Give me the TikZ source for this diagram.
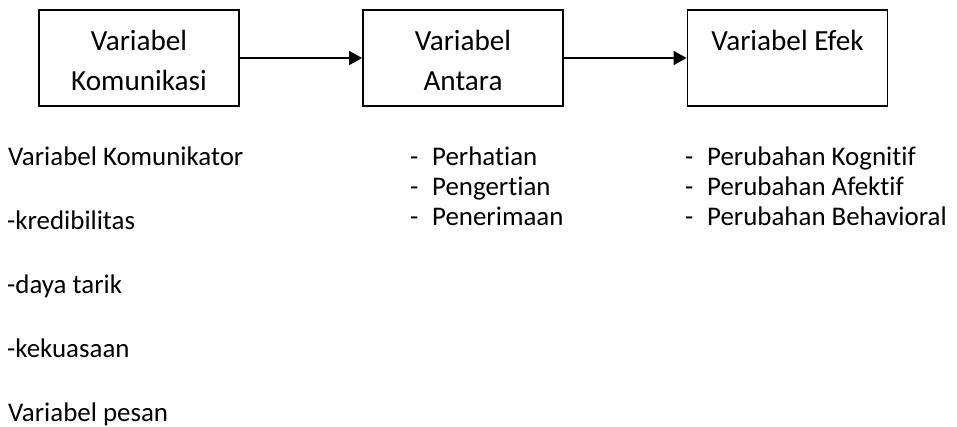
\documentclass[tikz,border=0pt]{standalone}
\usepackage{fontspec}
\setmainfont{Carlito}[Ligatures=NoCommon]
\usetikzlibrary{arrows.meta}

\tikzset{
  varbox/.style={draw=black, line width=1.8pt, minimum width=200pt, minimum height=96pt, inner sep=0pt},
  boxtext/.style={anchor=base, inner sep=0pt, font=\fontsize{29.2}{34}\selectfont},
  listtext/.style={anchor=base west, inner sep=0pt, font=\fontsize{26.9}{30}\selectfont},
  flow/.style={line width=1.8pt, -{Triangle[length=13pt,width=14pt]}}
}

\begin{document}
\begin{tikzpicture}[x=1pt, y=-1pt]
  \useasboundingbox (0,0) rectangle (957,426);

  % the three variable boxes
  \node[varbox] (kom) at (139,58) {};
  \node[varbox] (ant) at (463,58) {};
  \node[varbox] (efk) at (787.5,58) {};

  \node[boxtext] (kom1) at (139,50) {Variabel};
  \node[boxtext] (kom2) at (139,90) {Komunikasi};
  \node[boxtext] (ant1) at (463,50) {Variabel};
  \node[boxtext] (ant2) at (463,90) {Antara};
  \node[boxtext] (efk1) at (787.5,50) {Variabel Efek};

  % flow between the boxes
  \draw[flow] (kom.east) -- (ant.west);
  \draw[flow] (ant.east) -- (efk.west);

  % communication variables
  \node[listtext] (l1) at (8,165) {Variabel Komunikator};
  \node[listtext] (l2) at (7,229) {-kredibilitas};
  \node[listtext] (l3) at (7,293) {-daya tarik};
  \node[listtext] (l4) at (7,357) {-kekuasaan};
  \node[listtext] (l5) at (8,421) {Variabel pesan};

  % intermediate variables
  \node[listtext] (m1d) at (410,165) {-};
  \node[listtext] (m1) at (432,165) {Perhatian};
  \node[listtext] (m2d) at (410,195) {-};
  \node[listtext] (m2) at (432,195) {Pengertian};
  \node[listtext] (m3d) at (410,225) {-};
  \node[listtext] (m3) at (432,225) {Penerimaan};

  % effect variables
  \node[listtext] (r1d) at (685,165) {-};
  \node[listtext] (r1) at (707,165) {Perubahan Kognitif};
  \node[listtext] (r2d) at (685,195) {-};
  \node[listtext] (r2) at (707,195) {Perubahan Afektif};
  \node[listtext] (r3d) at (685,225) {-};
  \node[listtext] (r3) at (707,225) {Perubahan Behavioral};
\end{tikzpicture}
\end{document}
